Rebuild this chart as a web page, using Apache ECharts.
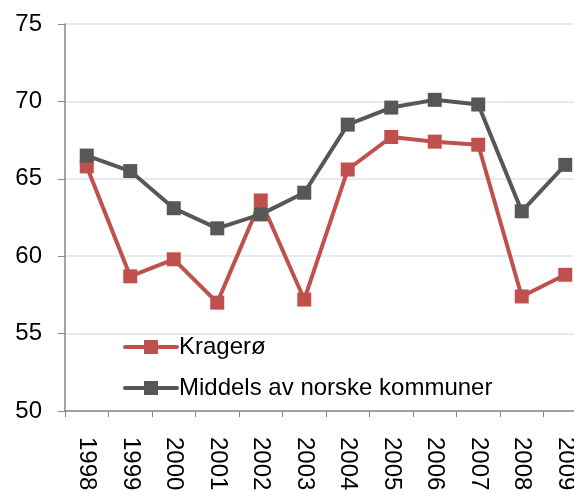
<!DOCTYPE html>
<html>
<head>
<meta charset="utf-8">
<script src="https://cdn.jsdelivr.net/npm/echarts@6/dist/echarts.min.js"></script>
<style>
html,body{margin:0;padding:0;background:#fff;}
#chart{width:574px;height:492px;}
</style>
</head>
<body>
<div id="chart"></div>
<script>
// år og verdier lest av figuren
var years = ['1998','1999','2000','2001','2002','2003','2004','2005','2006','2007','2008','2009'];
var krageroe = [65.8, 58.7, 59.8, 57.0, 63.6, 57.2, 65.6, 67.7, 67.4, 67.2, 57.4, 58.8];
var middels = [66.5, 65.5, 63.1, 61.8, 62.7, 64.1, 68.5, 69.6, 70.1, 69.8, 62.9, 65.9];
var seriesNames = ['Kragerø', 'Middels av norske kommuner'];

// legendesymbol: tykk strek med kvadrat i midten
var legendIcon = 'path://M2,5 L54,5 A2,2 0 0 1 54,9 L2,9 A2,2 0 0 1 2,5 Z M21,0 L35,0 L35,14 L21,14 Z';

var myChart = echarts.init(document.getElementById('chart'));
var option = {
    animation: false,
    textStyle: { fontFamily: 'Liberation Sans, Arial, sans-serif' },
    // plottet fortsetter litt forbi høyre kant, som i originalen
    grid: { left: 65, width: 522, top: 24, height: 387, outerBoundsMode: 'none' },
    legend: {
        data: seriesNames,
        orient: 'vertical',
        left: 118,
        top: 330,
        icon: legendIcon,
        itemWidth: 56,
        itemHeight: 14,
        itemGap: 17,
        textStyle: { fontSize: 24, color: '#000', padding: [0, 0, 0, -5] }
    },
    xAxis: {
        type: 'category',
        data: years,
        boundaryGap: true,
        axisLine: { lineStyle: { color: '#868686', width: 1.5 } },
        axisTick: { show: true, length: 6, lineStyle: { color: '#868686' } },
        axisLabel: { rotate: -90, fontSize: 24, color: '#000', margin: 26, interval: 0 }
    },
    yAxis: {
        type: 'value',
        min: 50,
        max: 75,
        interval: 5,
        axisLine: { show: true, lineStyle: { color: '#868686', width: 1.5 } },
        axisTick: { show: true, length: 7, lineStyle: { color: '#868686' } },
        axisLabel: { fontSize: 24, color: '#000', margin: 23 },
        splitLine: { lineStyle: { color: '#dbe5f1', width: 1.5 } }
    },
    series: [
        {
            name: seriesNames[0],
            type: 'line',
            data: krageroe,
            symbol: 'rect',
            symbolSize: 14,
            lineStyle: { color: '#c0504d', width: 4 },
            itemStyle: { color: '#c0504d' }
        },
        {
            name: seriesNames[1],
            type: 'line',
            data: middels,
            symbol: 'rect',
            symbolSize: 14,
            lineStyle: { color: '#575757', width: 4 },
            itemStyle: { color: '#575757' }
        }
    ]
};
myChart.setOption(option);
</script>
</body>
</html>
